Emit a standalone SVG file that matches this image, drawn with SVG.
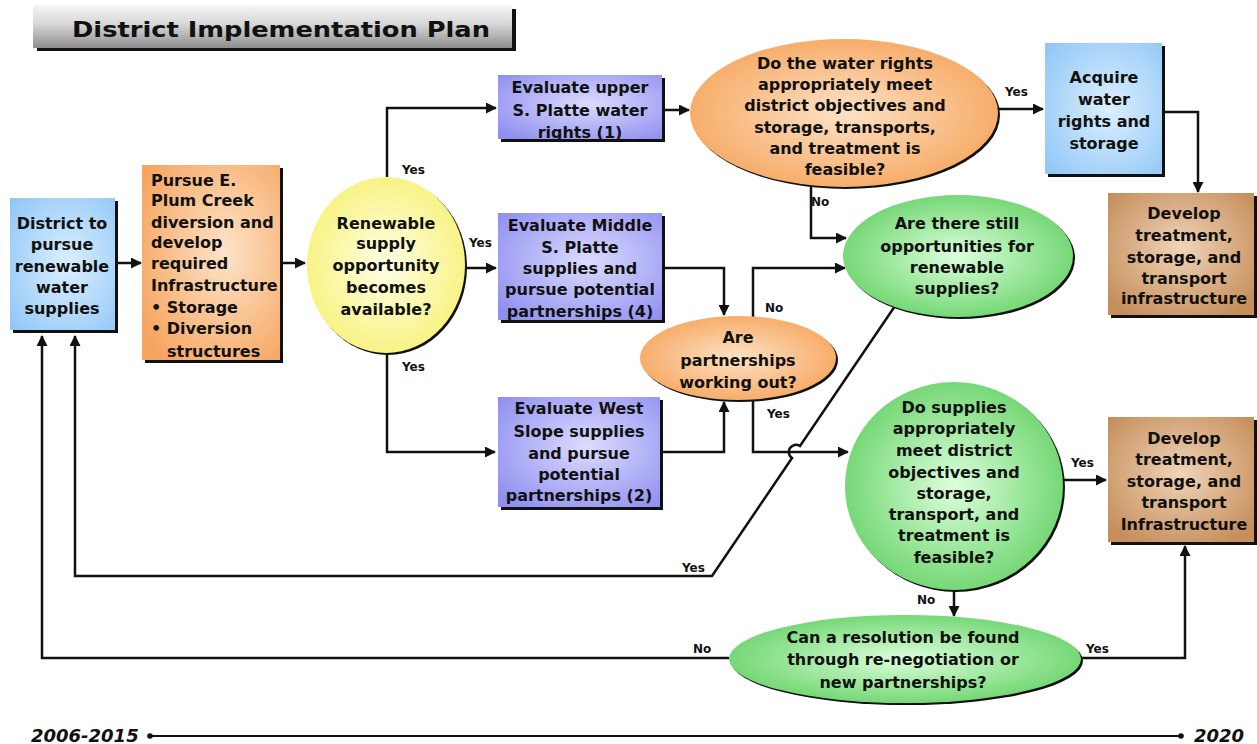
<svg xmlns="http://www.w3.org/2000/svg" width="1257" height="744" viewBox="0 0 1257 744">
  <defs>
    <linearGradient id="gTitle" x1="0" y1="0" x2="0" y2="1">
      <stop offset="0" stop-color="#f6f6f6"/>
      <stop offset="0.45" stop-color="#d6d6d6"/>
      <stop offset="1" stop-color="#8e8e8e"/>
    </linearGradient>
    <radialGradient id="gBlue" cx="0.55" cy="0.5" r="0.7">
      <stop offset="0" stop-color="#dcefff"/>
      <stop offset="1" stop-color="#92c8f6"/>
    </radialGradient>
    <radialGradient id="gOrangeBox" cx="0.6" cy="0.45" r="0.7">
      <stop offset="0" stop-color="#fde4c9"/>
      <stop offset="1" stop-color="#f6a560"/>
    </radialGradient>
    <radialGradient id="gPurple" cx="0.55" cy="0.45" r="0.7">
      <stop offset="0" stop-color="#dcdcff"/>
      <stop offset="1" stop-color="#8f8ff0"/>
    </radialGradient>
    <radialGradient id="gYellow" cx="0.5" cy="0.5" r="0.55">
      <stop offset="0" stop-color="#ffffe6"/>
      <stop offset="1" stop-color="#f8f27c"/>
    </radialGradient>
    <radialGradient id="gOrange" cx="0.5" cy="0.5" r="0.55">
      <stop offset="0" stop-color="#fde2c6"/>
      <stop offset="1" stop-color="#f6a862"/>
    </radialGradient>
    <radialGradient id="gGreen" cx="0.5" cy="0.5" r="0.55">
      <stop offset="0" stop-color="#dcffdc"/>
      <stop offset="1" stop-color="#6cd46c"/>
    </radialGradient>
    <radialGradient id="gBrown" cx="0.5" cy="0.45" r="0.65">
      <stop offset="0" stop-color="#f0d4b8"/>
      <stop offset="1" stop-color="#c58e5b"/>
    </radialGradient>
    <marker id="ah" markerWidth="11" markerHeight="11" refX="10" refY="5.5" orient="auto" markerUnits="userSpaceOnUse">
      <path d="M0,0 L11,5.5 L0,11 z" fill="#111"/>
    </marker>
    <style>
      .t{font-family:"DejaVu Sans",Verdana,sans-serif;font-weight:bold;font-size:16px;fill:#111;text-anchor:middle}
      .l{font-family:"DejaVu Sans",Verdana,sans-serif;font-weight:bold;font-size:12px;fill:#111}
      .sh{fill:#111}
      .bx{stroke:none}
      .c{fill:none;stroke:#111;stroke-width:2.5;marker-end:url(#ah)}
      .cn{fill:none;stroke:#111;stroke-width:2.5}
      .yr{font-family:"DejaVu Sans",Verdana,sans-serif;font-weight:bold;font-style:italic;font-size:18px;fill:#111}
    </style>
  </defs>

  <rect width="1257" height="744" fill="#ffffff"/>

  <!-- Title -->
  <g id="title">
    <rect x="37" y="9" width="479" height="42" class="sh"/>
    <rect x="33" y="5" width="479" height="43" fill="url(#gTitle)"/>
    <text x="72" y="37" font-family="DejaVu Sans,Verdana,sans-serif" font-weight="bold" font-size="21" fill="#111" textLength="418" lengthAdjust="spacingAndGlyphs">District Implementation Plan</text>
  </g>

  <!-- Connectors -->
  <g id="connectors">
    <path class="c" d="M118,263 L141,263"/>
    <path class="c" d="M283,263 L305,263"/>
    <path class="c" d="M387,177 L387,108 L496,108"/>
    <path class="c" d="M465,268 L496,268"/>
    <path class="c" d="M387,353 L387,452 L495,452"/>
    <path class="c" d="M665,110 L689,110"/>
    <path class="c" d="M665,268 L724,268 L724,315"/>
    <path class="c" d="M663,452 L724,452 L724,402"/>
    <path class="c" d="M753,317 L753,268 L845,268"/>
    <path class="c" d="M753,400 L753,452 L848,452"/>
    <path class="c" d="M998,109 L1043,109"/>
    <path class="c" d="M1165,112 L1198,112 L1198,192"/>
    <path class="c" d="M811,185 L811,238 L846,238"/>
    <path class="c" d="M895,306 L800,446 A7,7 0 0 0 792,458 L712,576 L75,576 L75,336"/>
    <path class="c" d="M1063,480 L1106,480"/>
    <path class="c" d="M954,590 L954,616"/>
    <path class="c" d="M729,658 L42,658 L42,336"/>
    <path class="c" d="M1081,658 L1185,658 L1185,546"/>
    <text class="l" x="402" y="174">Yes</text>
    <text class="l" x="469" y="247">Yes</text>
    <text class="l" x="402" y="371">Yes</text>
    <text class="l" x="765" y="312">No</text>
    <text class="l" x="767" y="418">Yes</text>
    <text class="l" x="682" y="572">Yes</text>
    <text class="l" x="1005" y="96">Yes</text>
    <text class="l" x="811" y="206">No</text>
    <text class="l" x="1071" y="467">Yes</text>
    <text class="l" x="917" y="604">No</text>
    <text class="l" x="693" y="653">No</text>
    <text class="l" x="1086" y="653">Yes</text>
  </g>

  <!-- Nodes -->
  <g id="n-district">
    <rect x="13" y="201" width="105" height="132" class="sh"/>
    <rect x="10" y="198" width="105" height="132" fill="url(#gBlue)"/>
    <text class="t" x="62" y="229">District to</text>
    <text class="t" x="62" y="250">pursue</text>
    <text class="t" x="62" y="272">renewable</text>
    <text class="t" x="62" y="293">water</text>
    <text class="t" x="62" y="314">supplies</text>
  </g>

  <g id="n-plumcreek">
    <rect x="145" y="168" width="138" height="195" class="sh"/>
    <rect x="142" y="165" width="138" height="195" fill="url(#gOrangeBox)"/>
    <g class="t" style="text-anchor:start">
      <text class="t" style="text-anchor:start" x="151" y="186">Pursue E.</text>
      <text class="t" style="text-anchor:start" x="151" y="206">Plum Creek</text>
      <text class="t" style="text-anchor:start" x="151" y="228">diversion and</text>
      <text class="t" style="text-anchor:start" x="151" y="248">develop</text>
      <text class="t" style="text-anchor:start" x="151" y="269">required</text>
      <text class="t" style="text-anchor:start" x="151" y="291">Infrastructure</text>
      <text class="t" style="text-anchor:start" x="151" y="313">• Storage</text>
      <text class="t" style="text-anchor:start" x="151" y="334">• Diversion</text>
      <text class="t" style="text-anchor:start" x="167" y="357">structures</text>
    </g>
  </g>

  <g id="n-renewable">
    <ellipse cx="388" cy="267" rx="79" ry="88" class="sh"/>
    <ellipse cx="386" cy="265" rx="79" ry="88" fill="url(#gYellow)"/>
    <text class="t" x="386" y="229">Renewable</text>
    <text class="t" x="386" y="249">supply</text>
    <text class="t" x="386" y="271">opportunity</text>
    <text class="t" x="386" y="293">becomes</text>
    <text class="t" x="386" y="315">available?</text>
  </g>

  <g id="n-upper">
    <rect x="501" y="78" width="164" height="64" class="sh"/>
    <rect x="498" y="75" width="164" height="64" fill="url(#gPurple)"/>
    <text class="t" x="580" y="93">Evaluate upper</text>
    <text class="t" x="580" y="116">S. Platte water</text>
    <text class="t" x="580" y="138">rights (1)</text>
  </g>

  <g id="n-middle">
    <rect x="501" y="216" width="164" height="107" class="sh"/>
    <rect x="498" y="213" width="164" height="107" fill="url(#gPurple)"/>
    <text class="t" x="580" y="231">Evaluate Middle</text>
    <text class="t" x="580" y="253">S. Platte</text>
    <text class="t" x="580" y="274">supplies and</text>
    <text class="t" x="580" y="295">pursue potential</text>
    <text class="t" x="580" y="317">partnerships (4)</text>
  </g>

  <g id="n-west">
    <rect x="501" y="400" width="162" height="110" class="sh"/>
    <rect x="498" y="397" width="162" height="110" fill="url(#gPurple)"/>
    <text class="t" x="579" y="414">Evaluate West</text>
    <text class="t" x="579" y="437">Slope supplies</text>
    <text class="t" x="579" y="459">and pursue</text>
    <text class="t" x="579" y="480">potential</text>
    <text class="t" x="579" y="501">partnerships (2)</text>
  </g>

  <g id="n-partnerships">
    <ellipse cx="740" cy="360" rx="98" ry="42" class="sh"/>
    <ellipse cx="738" cy="358" rx="98" ry="42" fill="url(#gOrange)"/>
    <text class="t" x="738" y="343">Are</text>
    <text class="t" x="738" y="366">partnerships</text>
    <text class="t" x="738" y="388">working out?</text>
  </g>

  <g id="n-waterrights">
    <ellipse cx="846" cy="115" rx="154" ry="74" class="sh"/>
    <ellipse cx="844" cy="113" rx="154" ry="74" fill="url(#gOrange)"/>
    <text class="t" x="845" y="69">Do the water rights</text>
    <text class="t" x="845" y="90">appropriately meet</text>
    <text class="t" x="845" y="111">district objectives and</text>
    <text class="t" x="845" y="133">storage, transports,</text>
    <text class="t" x="845" y="154">and treatment is</text>
    <text class="t" x="845" y="175">feasible?</text>
  </g>

  <g id="n-acquire">
    <rect x="1048" y="46" width="117" height="131" class="sh"/>
    <rect x="1045" y="43" width="117" height="131" fill="url(#gBlue)"/>
    <text class="t" x="1104" y="83">Acquire</text>
    <text class="t" x="1104" y="105">water</text>
    <text class="t" x="1104" y="127">rights and</text>
    <text class="t" x="1104" y="149">storage</text>
  </g>

  <g id="n-develop1">
    <rect x="1111" y="196" width="146" height="122" class="sh"/>
    <rect x="1108" y="193" width="146" height="122" fill="url(#gBrown)"/>
    <text class="t" x="1184" y="219">Develop</text>
    <text class="t" x="1184" y="241">treatment,</text>
    <text class="t" x="1184" y="263">storage, and</text>
    <text class="t" x="1184" y="284">transport</text>
    <text class="t" x="1184" y="304">infrastructure</text>
  </g>

  <g id="n-stillopps">
    <ellipse cx="960" cy="258" rx="115" ry="61" class="sh"/>
    <ellipse cx="958" cy="256" rx="115" ry="61" fill="url(#gGreen)"/>
    <text class="t" x="957" y="229">Are there still</text>
    <text class="t" x="957" y="252">opportunities for</text>
    <text class="t" x="957" y="273">renewable</text>
    <text class="t" x="957" y="294">supplies?</text>
  </g>

  <g id="n-dosupplies">
    <ellipse cx="956" cy="488" rx="109" ry="104" class="sh"/>
    <ellipse cx="954" cy="486" rx="109" ry="104" fill="url(#gGreen)"/>
    <text class="t" x="954" y="413">Do supplies</text>
    <text class="t" x="954" y="434">appropriately</text>
    <text class="t" x="954" y="456">meet district</text>
    <text class="t" x="954" y="478">objectives and</text>
    <text class="t" x="954" y="499">storage,</text>
    <text class="t" x="954" y="520">transport, and</text>
    <text class="t" x="954" y="541">treatment is</text>
    <text class="t" x="954" y="563">feasible?</text>
  </g>

  <g id="n-develop2">
    <rect x="1111" y="420" width="146" height="125" class="sh"/>
    <rect x="1108" y="417" width="146" height="125" fill="url(#gBrown)"/>
    <text class="t" x="1184" y="444">Develop</text>
    <text class="t" x="1184" y="465">treatment,</text>
    <text class="t" x="1184" y="487">storage, and</text>
    <text class="t" x="1184" y="508">transport</text>
    <text class="t" x="1184" y="530">Infrastructure</text>
  </g>

  <g id="n-resolution">
    <ellipse cx="907" cy="661" rx="176" ry="44" class="sh"/>
    <ellipse cx="905" cy="659" rx="176" ry="44" fill="url(#gGreen)"/>
    <text class="t" x="903" y="643">Can a resolution be found</text>
    <text class="t" x="903" y="665">through re-negotiation or</text>
    <text class="t" x="903" y="688">new partnerships?</text>
  </g>

  <!-- Timeline -->
  <g id="timeline">
    <line x1="150" y1="736" x2="1181" y2="736" stroke="#111" stroke-width="2"/>
    <circle cx="150" cy="736" r="2.8" fill="#111"/>
    <circle cx="1181" cy="736" r="2.8" fill="#111"/>
    <text class="yr" x="31" y="742">2006-2015</text>
    <text class="yr" x="1194" y="742">2020</text>
  </g>
</svg>
